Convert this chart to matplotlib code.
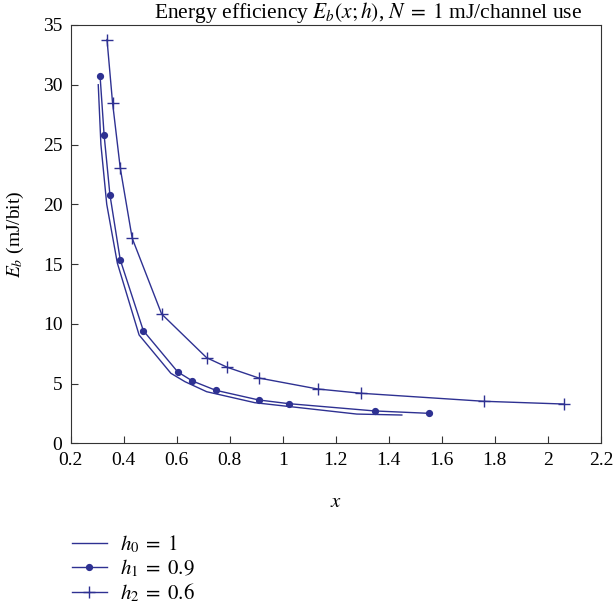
import matplotlib.pyplot as plt

plt.rcParams["font.family"] = ["Liberation Serif", "DejaVu Serif"]
plt.rcParams["mathtext.fontset"] = "stix"

# h0 = 1 (line only)
x_h0 = [0.304, 0.314, 0.336, 0.376, 0.458, 0.578, 0.631, 0.713, 0.895, 1.279, 1.449]
eb_h0 = [30.0, 25.0, 20.0, 15.08, 9.07, 5.86, 5.16, 4.32, 3.40, 2.45, 2.37]

# h1 = 0.9 (dots)
x_h1 = [0.311, 0.326, 0.348, 0.387, 0.474, 0.604, 0.659, 0.747, 0.909, 1.023, 1.347, 1.553]
eb_h1 = [30.70, 25.82, 20.80, 15.35, 9.43, 5.97, 5.22, 4.44, 3.63, 3.32, 2.71, 2.51]

# h2 = 0.6 (plus)
x_h2 = [0.337, 0.358, 0.387, 0.432, 0.543, 0.713, 0.791, 0.909, 1.131, 1.295, 1.758, 2.059]
eb_h2 = [33.78, 28.48, 23.03, 17.16, 10.82, 7.16, 6.36, 5.47, 4.55, 4.19, 3.52, 3.29]

labels = [r"$h_0\;=\;1$", r"$h_1\;=\;0.9$", r"$h_2\;=\;0.6$"]
color = "#2e3192"

fig = plt.figure(figsize=(6.13, 6.09), dpi=100)
ax = fig.add_axes([0.1153, 0.272, 0.865, 0.687])

ax.plot(x_h0, eb_h0, "-", color=color, lw=1.0, label=labels[0])
ax.plot(x_h1, eb_h1, "-", color=color, lw=1.0, marker="o", ms=4.2, label=labels[1])
ax.plot(x_h2, eb_h2, "-", color=color, lw=1.0, marker="+", ms=9, mew=1.0, label=labels[2])

ax.set_xlim(0.2, 2.2)
ax.set_ylim(0, 35)
ax.set_xticks([0.2, 0.4, 0.6, 0.8, 1, 1.2, 1.4, 1.6, 1.8, 2, 2.2])
ax.set_xticklabels(["0.2", "0.4", "0.6", "0.8", "1", "1.2", "1.4", "1.6", "1.8", "2", "2.2"])
ax.set_yticks(range(0, 36, 5))
ax.tick_params(direction="in", length=5, labelsize=14, color="#333333")
ax.tick_params(axis="x", pad=6.5)
ax.tick_params(axis="y", pad=6)
for s in ax.spines.values():
    s.set_color("#333333")

ax.set_xlabel(r"$x$", fontsize=15, labelpad=17)
ax.set_ylabel(r"$E_b$ (mJ/bit)", fontsize=14, labelpad=12)
ax.set_title(r"Energy efficiency $E_b(x;h)$, $N\;=\;1$ mJ/channel use",
             fontsize=15.5, pad=2, x=0.56)

fig.legend(loc="upper left", bbox_to_anchor=(0.1035, 0.138), frameon=False,
           fontsize=15, handlelength=1.7, handletextpad=0.6, labelspacing=0.12,
           borderaxespad=0)

fig.savefig("out.png", dpi=100)
